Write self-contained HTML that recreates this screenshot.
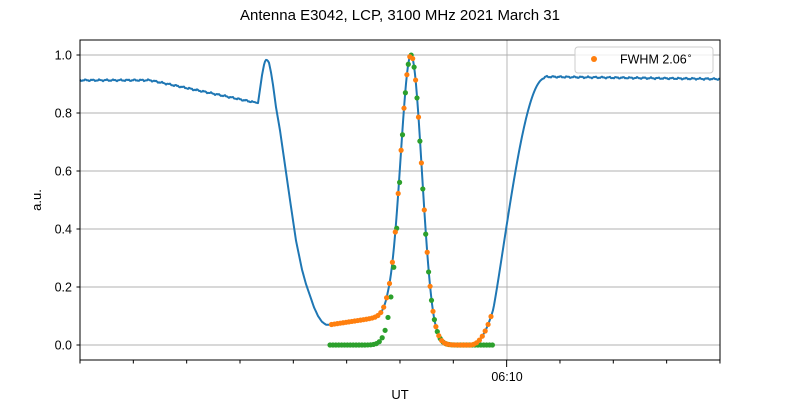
<!DOCTYPE html>
<html><head><meta charset="utf-8"><style>
body{margin:0;background:#fff}
svg{font-family:"Liberation Sans","DejaVu Sans",sans-serif}
</style></head><body>
<svg id="s" width="800" height="400" xmlns="http://www.w3.org/2000/svg">
<rect width="800" height="400" fill="#fff"/>
<text x="400" y="20" font-size="15" text-anchor="middle">Antenna E3042, LCP, 3100 MHz 2021 March 31</text>
<g id="grid" stroke="#b0b0b0" stroke-width="0.9"></g>
<g id="data"></g>
<rect x="80" y="40" width="640" height="320" fill="none" stroke="#000" stroke-width="1"/>
<g id="ticks" stroke="#000" stroke-width="1"></g>
<g id="labels" font-size="12.5"></g>
<text x="400" y="399" font-size="13" text-anchor="middle">UT</text>
<text transform="translate(41,200) rotate(-90)" font-size="13" text-anchor="middle">a.u.</text>
<rect x="575" y="47" width="138" height="26" fill="#fff" fill-opacity="0.8" stroke="#ccc" rx="3"/>
<circle cx="594" cy="59" r="3" fill="#ff7f0e"/>
<text x="620" y="63.5" font-size="12.5">FWHM 2.06<tspan font-size="9" dy="-5">∘</tspan></text>
</svg>
<script>
const NS="http://www.w3.org/2000/svg";
function el(p,t,a){const e=document.createElementNS(NS,t);for(const k in a)e.setAttribute(k,a[k]);p.appendChild(e);return e;}
const Y=v=>345-290*v;
const grid=document.getElementById('grid'),ticks=document.getElementById('ticks'),lab=document.getElementById('labels'),data=document.getElementById('data');
for(let i=0;i<=5;i++){const v=i*0.2,y=Y(v);el(grid,'line',{x1:80,x2:720,y1:y,y2:y});el(ticks,'line',{x1:76.5,x2:80,y1:y,y2:y});
const t=el(lab,'text',{x:72,y:y+4.5,'text-anchor':'end'});t.textContent=v.toFixed(1);}
el(grid,'line',{x1:507,x2:507,y1:40,y2:360});
for(let i=0;i<=12;i++){const x=80+i*53.33;el(ticks,'line',{x1:x,x2:x,y1:360,y2:i==8?367:363.5});}
const tl=el(lab,'text',{x:507,y:381,'text-anchor':'middle'});tl.textContent='06:10';
const g=x=>Math.exp(-Math.pow((x-411)/10.6,2)/2);
function base(x){if(x<330)return 0.07;if(x<388)return 0.07+0.03*(x-330)/58;return 0.1*Math.max(0,1-(x-388)/45);}
function tail(x){return x>470?0.12*Math.pow((x-470)/23,2.2):0;}
function orange(x){return Math.min(1,g(x)+base(x)*(1-g(x))+tail(x));}
const P=[[258,0.834],[262,0.93],[264.5,0.975],[266,0.983],[267.5,0.982],[269,0.973],[271,0.94],[273,0.897],[276,0.82],[280,0.74],[285,0.62],[290,0.5],[296,0.36],[302,0.26],[306,0.21],[310,0.17],[314,0.13],[318,0.1],[322,0.08],[326,0.07],[330,0.07]];
function interp(x){for(let i=0;i<P.length-1;i++){if(x<=P[i+1][0]){const t=(x-P[i][0])/(P[i+1][0]-P[i][0]);return P[i][1]+t*(P[i+1][1]-P[i][1]);}}return 0.07;}
function blue(x){
 if(x<150)return 0.913;
 if(x<258)return 0.913-0.079*(x-150)/108;
 if(x<330)return interp(x);
 if(x<493)return orange(x);
 if(x<545){const t=(x-493)/52;return 0.12+0.8*Math.pow(Math.sin(t*Math.PI/2),1.1);}
 return 0.925-0.008*(x-545)/175;
}
const pts=[];
for(let x=80;x<=720;x+=1){let v=blue(x);if(x<256||x>545)v+=0.002*Math.sin(x*0.9)+0.0015*Math.sin(x*2.3);pts.push(x+','+Y(v).toFixed(1));}
el(data,'polyline',{points:pts.join(' '),fill:'none',stroke:'#1f77b4','stroke-width':2,'stroke-linejoin':'round'});
for(let x=330;x<=493;x+=2.9){el(data,'circle',{cx:x,cy:Y(g(x)),r:2.6,fill:'#2ca02c'});}
for(let x=331.5;x<=493;x+=2.9){el(data,'circle',{cx:x,cy:Y(orange(x)),r:2.6,fill:'#ff7f0e'});}
</script>
</body></html>
